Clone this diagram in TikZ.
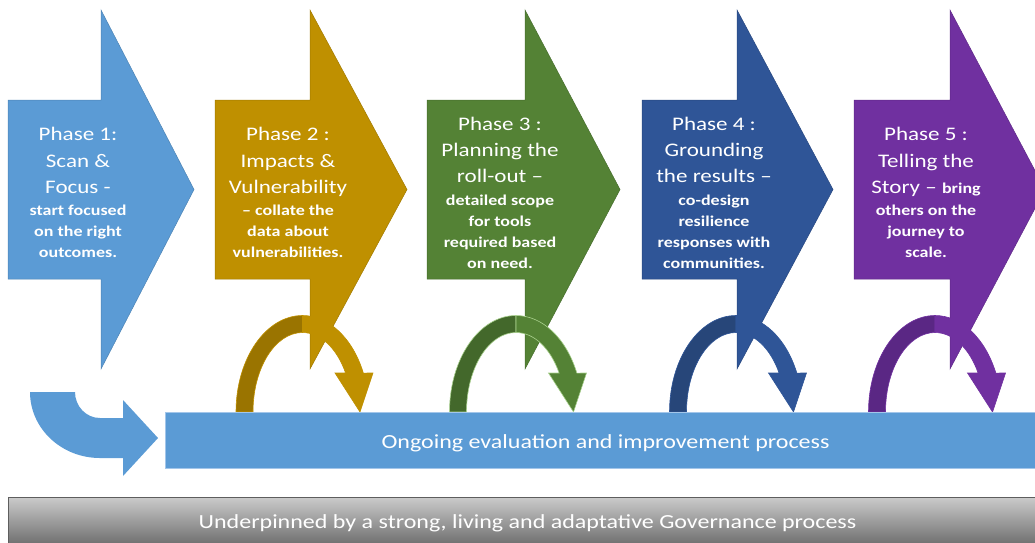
\documentclass[tikz,border=0pt]{standalone}
\usepackage{fontspec}
\setmainfont{Carlito}[FakeStretch=1.2]
\definecolor{c1}{HTML}{5B9BD5}
\definecolor{c1l}{HTML}{A3C6EA}
\definecolor{c2}{HTML}{BF9000}
\definecolor{c2d}{HTML}{9A7400}
\definecolor{c3}{HTML}{548235}
\definecolor{c3d}{HTML}{43682B}
\definecolor{c3l}{HTML}{A9D18E}
\definecolor{c4}{HTML}{2F5597}
\definecolor{c4d}{HTML}{274679}
\definecolor{c5}{HTML}{7030A0}
\definecolor{c5d}{HTML}{5A2784}
\definecolor{g1}{HTML}{CACACA}
\definecolor{g2}{HTML}{696969}
\definecolor{gdk}{HTML}{5E5E5E}
\begin{document}
\begin{tikzpicture}[x=1pt,y=-1pt,
  ttl/.style={text=white,font=\fontsize{19.2}{23}\selectfont,inner sep=0pt,anchor=base},
  sub/.style={text=white,font=\fontsize{15}{18}\selectfont\bfseries,inner sep=0pt,anchor=base},
  bartxt/.style={text=white,font=\fontsize{20}{24}\selectfont,inner sep=0pt,anchor=base},
  phasearrow/.style={fill=#1,draw=#1!85!black,line width=0.5pt,line join=miter},
]
\path[use as bounding box] (0,0) rectangle (1035,542);
\begin{scope}
\clip (0,0) rectangle (1035,542);
% phase arrows
\foreach \L/\B/\T/\col in {8/101/194/c1, 215/310/407/c2, 427/525/620/c3, 642/737/833/c4, 854/950/1045/c5}{
  \path[phasearrow=\col] (\L,100) -- (\B,100) -- (\B,10) -- (\T,189.5) -- (\B,369) -- (\B,279) -- (\L,279) -- cycle;
}
% loop arrows
\foreach \xc/\dk/\mn/\ol in {302.5/c2d/c2/c2, 516/c3d/c3/c3l, 736/c4d/c4/c4, 935/c5d/c5/c5}{
  \filldraw[fill=\dk,draw=\ol,line width=0.6pt] (\xc-66.5,412) arc[start angle=180,end angle=90,x radius=66.5pt,y radius=96.5pt]
     -- (\xc,332.5) arc[start angle=90,end angle=180,x radius=49.5pt,y radius=79.5pt] -- cycle;
  \filldraw[fill=\mn,draw=\ol,line width=0.6pt] (\xc,315.5) arc[start angle=90,end angle=23.8,x radius=66.5pt,y radius=96.5pt]
     -- (\xc+70.5,373) -- (\xc+57.5,412) -- (\xc+32.5,373) -- (\xc+43.1,373)
     arc[start angle=29.4,end angle=90,x radius=49.5pt,y radius=79.5pt] -- cycle;
}
% U-turn arrow
\fill[c1] (30,392) -- (75,392) arc[start angle=180,end angle=270,x radius=25pt,y radius=26pt]
   -- (123,418) -- (123,400) -- (158,438) -- (123,476) -- (123,458) -- (100,458)
   arc[start angle=270,end angle=180,x radius=70pt,y radius=66pt] -- cycle;
% bars
\node[fill=c1,draw=c1l,line width=0.8pt,minimum width=880pt,minimum height=56pt,inner sep=0pt,anchor=north west] (evalbar) at (165,412) {};
\node[bartxt] (evaltxt) at (605.5,448) {Ongoing evaluation and improvement process};
\node[top color=g1,bottom color=g2,draw=gdk,line width=1pt,minimum width=1040pt,minimum height=50pt,inner sep=0pt,anchor=north west] (govbar) at (8,497) {};
\node[bartxt] (govtxt) at (527.5,528) {Underpinned by a strong, living and adaptative Governance process};
\end{scope}
% phase texts
\node[ttl] (p1a) at (78,140) {Phase 1:};
\node[ttl] (p1b) at (78,167) {Scan \&};
\node[ttl] (p1c) at (78,193) {Focus -};
\node[sub] (p1d) at (78,215) {start focused};
\node[sub] (p1e) at (78,236) {on the right};
\node[sub] (p1f) at (78,257) {outcomes.};
\node[ttl] (p2a) at (288,140) {Phase 2 :};
\node[ttl] (p2b) at (288,167) {Impacts \&};
\node[ttl] (p2c) at (288,193) {Vulnerability};
\node[sub] (p2d) at (288,215) {– collate the};
\node[sub] (p2e) at (288,236) {data about};
\node[sub] (p2f) at (288,257) {vulnerabilities.};
\node[ttl] (p3a) at (500,130) {Phase 3 :};
\node[ttl] (p3b) at (500,156) {Planning the};
\node[ttl] (p3c) at (500,182) {roll-out –};
\node[sub] (p3d) at (500,205) {detailed scope};
\node[sub] (p3e) at (500,226) {for tools};
\node[sub] (p3f) at (500,247) {required based};
\node[sub] (p3g) at (500,268) {on need.};
\node[ttl] (p4a) at (714,130) {Phase 4 :};
\node[ttl] (p4b) at (714,156) {Grounding};
\node[ttl] (p4c) at (714,182) {the results –};
\node[sub] (p4d) at (714,205) {co-design};
\node[sub] (p4e) at (714,226) {resilience};
\node[sub] (p4f) at (714,247) {responses with};
\node[sub] (p4g) at (714,268) {communities.};
\node[ttl] (p5a) at (926,140) {Phase 5 :};
\node[ttl] (p5b) at (926,167) {Telling the};
\node[ttl] (p5c) at (926,193) {Story – {\fontsize{15}{18}\selectfont\bfseries bring}};
\node[sub] (p5d) at (926,215) {others on the};
\node[sub] (p5e) at (926,236) {journey to};
\node[sub] (p5f) at (926,257) {scale.};
\end{tikzpicture}
\end{document}
